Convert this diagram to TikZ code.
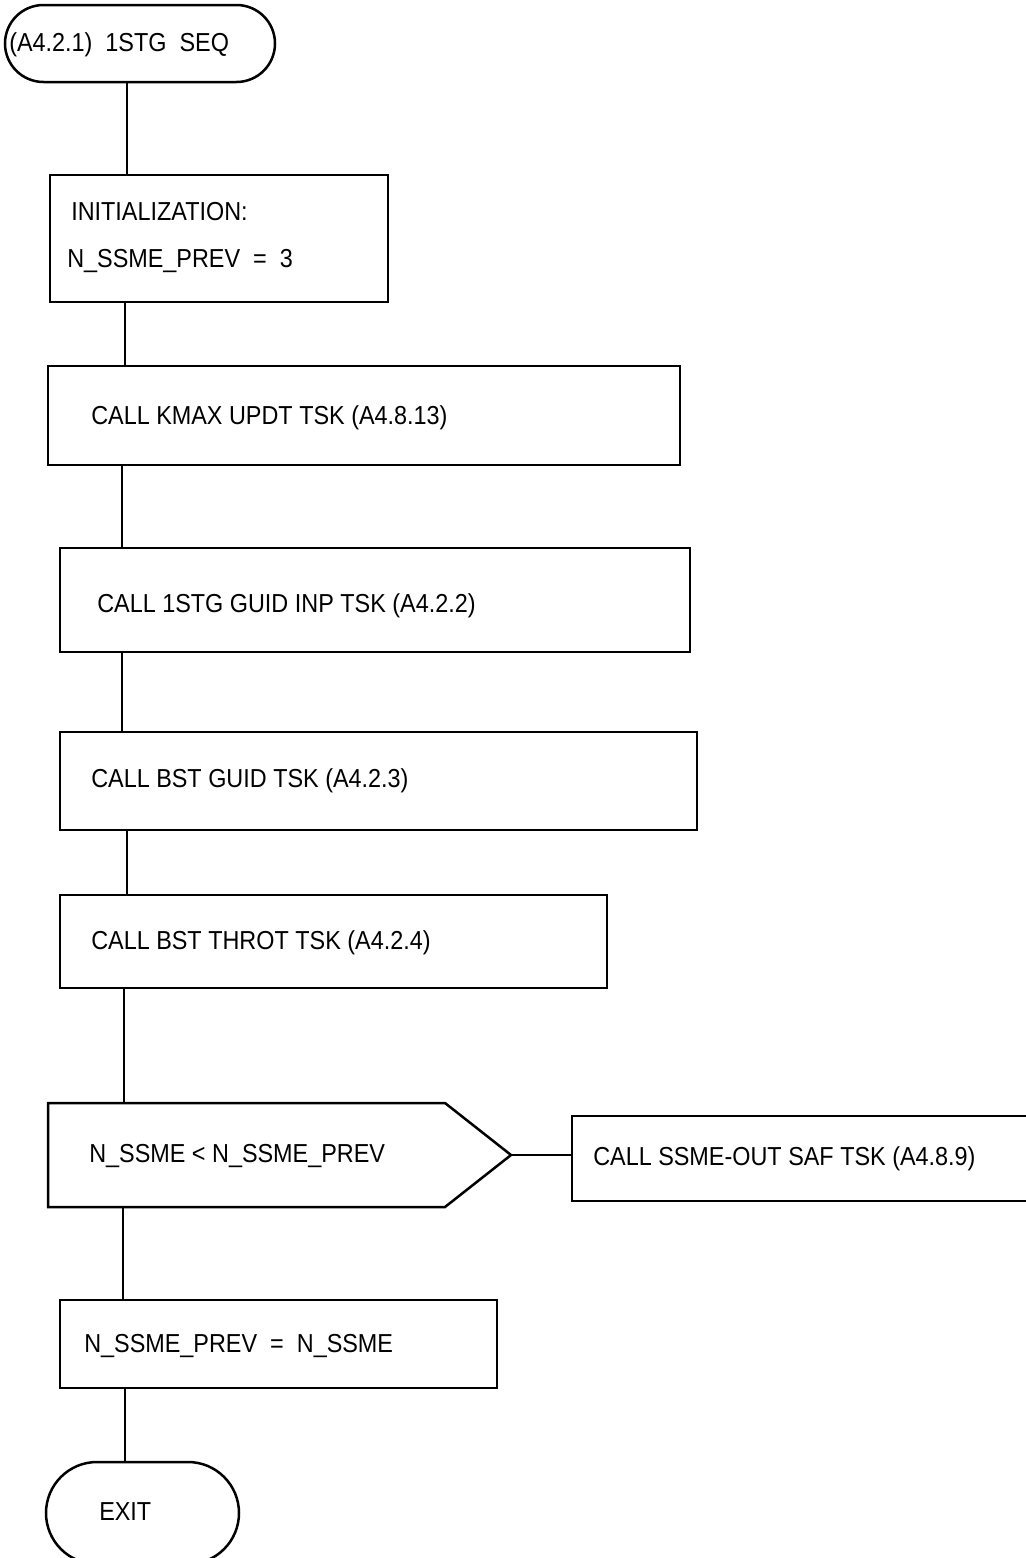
\documentclass[tikz,border=0pt]{standalone}
\usepackage{fontspec}
\setmainfont[FakeStretch=0.9]{Liberation Sans}
\usetikzlibrary{shapes.misc}
\begin{document}
\begin{tikzpicture}[x=0.5pt,y=-0.5pt,
  line width=1.25pt,
  box/.style={draw,rectangle,inner sep=0pt},
  term/.style={draw,rounded rectangle,inner sep=0pt},
  txt/.style={anchor=base west,inner sep=0pt,font=\fontsize{13pt}{15pt}\selectfont}]
\useasboundingbox (0,0) rectangle (1026,1558);
\begin{scope}
\clip (0,0) rectangle (1026,1558);
% shapes
\node[term,minimum width=135pt,minimum height=38.5pt] (start) at (140,43.5) {};
\node[box,minimum width=169pt,minimum height=63.5pt] (init) at (219,238.5) {};
\node[box,minimum width=316pt,minimum height=49.5pt] (kmax) at (364,415.5) {};
\node[box,minimum width=315pt,minimum height=52pt] (guid) at (375,600) {};
\node[box,minimum width=318.5pt,minimum height=49pt] (bstg) at (378.5,781) {};
\node[box,minimum width=273.5pt,minimum height=46.5pt] (bstt) at (333.5,941.5) {};
\coordinate (dtl) at (48,1103);
\coordinate (dtr) at (445,1103);
\coordinate (dtip) at (511,1155);
\coordinate (dbr) at (445,1207);
\coordinate (dbl) at (48,1207);
\draw (dtl) -- (dtr) -- (dtip) -- (dbr) -- (dbl) -- cycle;
\node[box,minimum width=234pt,minimum height=42.5pt] (saf) at (806,1158.5) {};
\node[box,minimum width=218.5pt,minimum height=44pt] (prev) at (278.5,1344) {};
\node[term,minimum width=96.5pt,minimum height=51pt] (exit) at (142.5,1513) {};
% connectors
\draw (start.south -| 127,0) -- (init.north -| 127,0);
\draw (init.south -| 125,0) -- (kmax.north -| 125,0);
\draw (kmax.south -| 122,0) -- (guid.north -| 122,0);
\draw (guid.south -| 122,0) -- (bstg.north -| 122,0);
\draw (bstg.south -| 127,0) -- (bstt.north -| 127,0);
\draw (bstt.south -| 124,0) -- (dtl -| 124,0);
\draw (dtip) -- (dtip -| saf.west);
\draw (dbl -| 123,0) -- (prev.north -| 123,0);
\draw (prev.south -| 125,0) -- (exit.north -| 125,0);
\end{scope}
% texts
\node[txt] (t0) at (8,51) {(A4.2.1)\ \ 1STG\ \ SEQ};
\node[txt] (t1a) at (70,220) {INITIALIZATION:};
\node[txt] (t1b) at (66,267) {N\_SSME\_PREV\ \ =\ \ 3};
\node[txt] (t2) at (90,424) {CALL KMAX UPDT TSK (A4.8.13)};
\node[txt] (t3) at (96,612) {CALL 1STG GUID INP TSK (A4.2.2)};
\node[txt] (t4) at (90,787) {CALL BST GUID TSK (A4.2.3)};
\node[txt] (t5) at (90,949) {CALL BST THROT TSK (A4.2.4)};
\node[txt] (t6) at (88,1162) {N\_SSME < N\_SSME\_PREV};
\node[txt] (t7) at (592,1165) {CALL SSME-OUT SAF TSK (A4.8.9)};
\node[txt] (t8) at (83,1352) {N\_SSME\_PREV\ \ =\ \ N\_SSME};
\node[txt] (t9) at (98,1520) {EXIT};
\end{tikzpicture}
\end{document}
